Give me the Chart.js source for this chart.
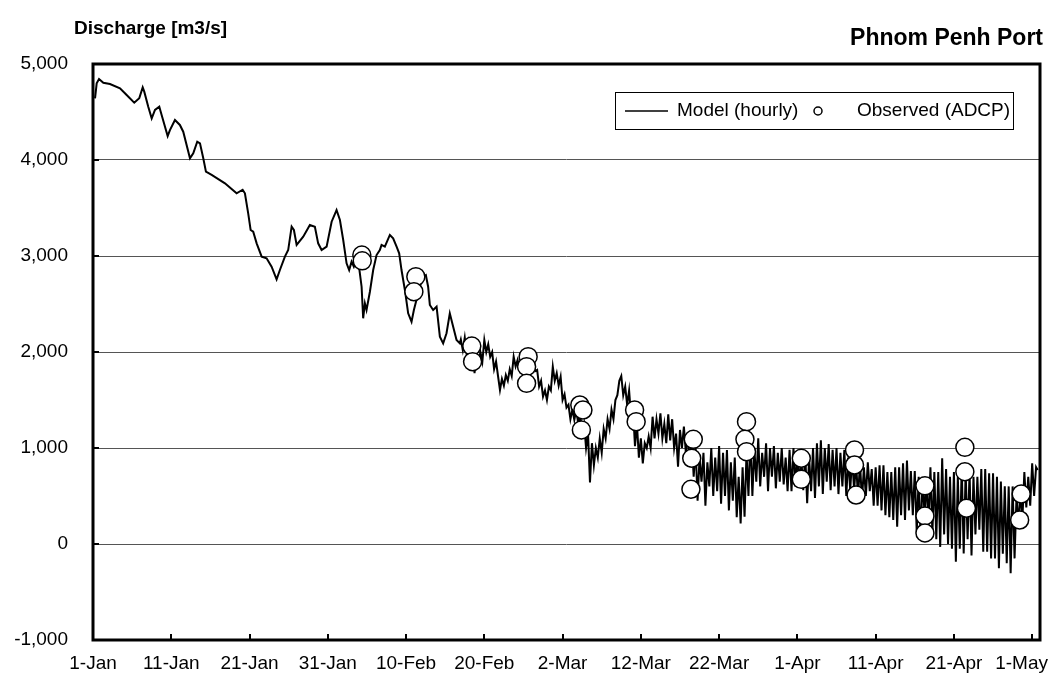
<!DOCTYPE html>
<html>
<head>
<meta charset="utf-8">
<script src="https://cdn.jsdelivr.net/npm/chart.js@4.4.0/dist/chart.umd.min.js"></script>
<style>
  html, body { margin: 0; padding: 0; background: #fff; }
  canvas { display: block; }
</style>
</head>
<body>
<canvas id="myChart" width="1062" height="682"></canvas>
<script>
// day of year (0 = 1-Jan) and discharge in m3/s
var modelFalling = [
  [0.26,4643],[0.47,4799],[0.77,4844],[1.32,4805],[2.17,4792],[3.45,4747],[4.30,4677],[5.27,4597],
  [5.91,4643],[6.35,4757],[6.55,4712],[7.06,4555],[7.50,4434],[7.92,4521],[8.47,4555],[8.77,4469],
  [9.54,4250],[9.83,4312],[10.47,4417],[11.10,4365],[11.53,4295],[12.39,4018],[12.81,4070],[13.32,4191],
  [13.67,4174],[14.09,4018],[14.43,3878],[15.16,3844],[16.86,3757],[18.35,3653],[19.12,3690],[19.41,3653],
  [19.83,3444],[20.14,3271],[20.47,3253],[20.91,3132],[21.55,2993],[22.18,2976],[22.82,2889],[23.46,2757],
  [23.88,2854],[24.52,2993],[24.94,3062],[25.38,3305],[25.67,3271],[26.02,3115],[26.86,3201],[27.71,3323],
  [28.35,3305],[28.77,3132],[29.21,3062],[29.85,3097],[30.49,3357],[31.12,3479],[31.55,3375],[31.97,3167],
  [32.40,2924],[32.73,2854],[33.04,2941],[33.33,2889],[33.68,2958],[33.97,2900],[34.32,2680],[34.52,2351],
  [34.74,2507],[34.95,2438],[35.38,2628],[35.80,2854],[36.23,3010],[36.65,3062],[36.87,3115],[37.29,3097],
  [37.93,3219],[38.35,3184],[38.79,3097],[39.12,3028],[39.42,2854],[39.85,2646],[40.27,2403],[40.70,2316],
  [41.00,2438],[41.76,2680],[42.18,2785],[42.53,2802],[42.82,2680],[43.04,2490],[43.46,2438],[43.90,2472],
  [44.32,2160],[44.74,2090],[45.17,2195],[45.59,2403],[46.02,2264],[46.45,2125],[46.87,2090]
];

// tidal part of the record, two highs and two lows per day
var modelTidal = [
  [47.00,2130],[47.25,2020],[47.50,2150],[47.75,1980],
  [48.00,2100],[48.25,1950],[48.50,2050],[48.75,1780],
  [49.00,1980],[49.25,1880],[49.50,2000],[49.75,1900],
  [50.00,2125],[50.25,2000],[50.50,2080],[50.75,1950],
  [51.00,2000],[51.25,1820],[51.50,1900],[51.75,1750],
  [52.00,1604],[52.25,1720],[52.50,1650],[52.75,1760],
  [53.00,1700],[53.25,1820],[53.50,1750],[53.75,1951],
  [54.00,1850],[54.25,1917],[54.50,1820],[54.75,1900],
  [55.00,1800],[55.25,1900],[55.50,1780],[55.75,1950],
  [56.00,1850],[56.25,1900],[56.50,1800],[56.75,1813],
  [57.00,1640],[57.25,1700],[57.50,1535],[57.75,1600],
  [58.00,1500],[58.25,1640],[58.50,1600],[58.75,1847],
  [59.00,1700],[59.25,1780],[59.50,1650],[59.75,1743],
  [60.00,1500],[60.25,1560],[60.50,1420],[60.75,1450],
  [61.00,1300],[61.25,1400],[61.50,1292],[61.75,1400],
  [62.00,1250],[62.25,1350],[62.50,1150],[62.75,1250],
  [63.00,1000],[63.25,1150],[63.50,640],[63.75,1050],
  [64.00,820],[64.25,1000],[64.50,900],[64.75,1100],
  [65.00,950],[65.25,1200],[65.50,1100],[65.75,1300],
  [66.00,1200],[66.25,1400],[66.50,1300],[66.75,1500],
  [67.00,1550],[67.25,1700],[67.50,1750],[67.75,1550],
  [68.00,1640],[68.25,1450],[68.50,1600],[68.75,1330],
  [69.00,1400],[69.25,1020],[69.50,1250],[69.75,900],
  [70.00,1100],[70.25,840],[70.50,1050],[70.75,1000],
  [71.00,1120],[71.25,1000],[71.50,1326],[71.75,1100],
  [72.00,1300],[72.25,1150],[72.50,1360],[72.75,1100],
  [73.00,1250],[73.25,1050],[73.50,1350],[73.75,1080],
  [74.00,1300],[74.25,1000],[74.50,1150],[74.75,806],
  [75.00,1188],[75.25,1000],[75.50,1222],[75.75,950],
  [76.00,1150],[76.25,800],[76.50,1100],[76.75,700],
  [77.00,1000],[77.25,450],[77.50,900],[77.75,650],
  [78.00,950],[78.25,400],[78.50,850],[78.75,600],
  [79.00,1000],[79.25,500],[79.50,900],[79.75,550],
  [80.00,1020],[80.25,420],[80.50,950],[80.75,500],
  [81.00,980],[81.25,350],[81.50,850],[81.75,450],
  [82.00,900],[82.25,280],[82.50,700],[82.75,215],
  [83.00,800],[83.25,285],[83.50,950],[83.75,500],
  [84.00,1150],[84.25,500],[84.50,1000],[84.75,650],
  [85.00,1100],[85.25,600],[85.50,950],[85.75,700],
  [86.00,1050],[86.25,550],[86.50,1000],[86.75,700],
  [87.00,1020],[87.25,580],[87.50,950],[87.75,650],
  [88.00,1000],[88.25,620],[88.50,900],[88.75,550],
  [89.00,980],[89.25,550],[89.50,1000],[89.75,600],
  [90.00,950],[90.25,620],[90.50,900],[90.75,560],
  [91.00,950],[91.25,424],[91.50,900],[91.75,550],
  [92.00,1000],[92.25,480],[92.50,1050],[92.75,600],
  [93.00,1080],[93.25,520],[93.50,1000],[93.75,650],
  [94.00,1040],[94.25,560],[94.50,980],[94.75,600],
  [95.00,1000],[95.25,520],[95.50,950],[95.75,600],
  [96.00,980],[96.25,500],[96.50,900],[96.75,560],
  [97.00,900],[97.25,560],[97.50,850],[97.75,480],
  [98.00,850],[98.25,450],[98.50,800],[98.75,500],
  [99.00,850],[99.25,550],[99.50,780],[99.75,400],
  [100.00,800],[100.25,400],[100.50,820],[100.75,350],
  [101.00,820],[101.25,300],[101.50,750],[101.75,280],
  [102.00,750],[102.25,250],[102.50,800],[102.75,180],
  [103.00,800],[103.25,300],[103.50,840],[103.75,250],
  [104.00,870],[104.25,350],[104.50,760],[104.75,300],
  [105.00,760],[105.25,120],[105.50,700],[105.75,42],
  [106.00,700],[106.25,300],[106.50,650],[106.75,200],
  [107.00,800],[107.25,100],[107.50,750],[107.75,50],
  [108.00,750],[108.25,-30],[108.50,893],[108.75,100],
  [109.00,780],[109.25,0],[109.50,700],[109.75,-50],
  [110.00,750],[110.25,-184],[110.50,700],[110.75,-50],
  [111.00,800],[111.25,-100],[111.50,750],[111.75,50],
  [112.00,750],[112.25,-120],[112.50,700],[112.75,100],
  [113.00,700],[113.25,150],[113.50,780],[113.75,-80],
  [114.00,780],[114.25,-80],[114.50,736],[114.75,-150],
  [115.00,736],[115.25,-150],[115.50,700],[115.75,-253],
  [116.00,650],[116.25,-100],[116.50,600],[116.75,-200],
  [117.00,600],[117.25,-305],[117.50,600],[117.75,-150],
  [118.00,500],[118.25,200],[118.50,550],[118.75,250],
  [119.00,750],[119.25,380],[119.50,700],[119.75,400],
  [120.00,840],[120.25,500],[120.50,800],[120.70,770]
];

// ADCP measurements
var obsDay = [34.35, 34.4, 41.25, 41.0, 48.4, 48.5, 55.6, 55.4, 55.4, 62.2, 62.6, 62.4,
              69.2, 69.4, 76.7, 76.5, 76.4, 83.5, 83.3, 83.5, 90.5, 90.5, 97.3, 97.3, 97.5,
              106.3, 106.3, 106.3, 111.4, 111.4, 111.6, 118.6, 118.4];
var obsQ = [3010, 2950, 2785, 2628, 2062, 1899, 1951, 1847, 1674, 1448, 1396, 1188,
            1396, 1274, 1090, 893, 570, 1274, 1090, 962, 893, 674, 979, 823, 510,
            606, 292, 115, 1007, 753, 372, 521, 250];

var tickLabels = ['1-Jan', '11-Jan', '21-Jan', '31-Jan', '10-Feb', '20-Feb', '2-Mar',
                  '12-Mar', '22-Mar', '1-Apr', '11-Apr', '21-Apr', '1-May'];

var FONT = "'Liberation Sans', Arial, sans-serif";

var modelData = modelFalling.concat(modelTidal).map(function (p) { return {x: p[0], y: p[1]}; });
var obsData = obsDay.map(function (d, i) { return {x: d, y: obsQ[i]}; });

// border box, inward tick marks, titles and the legend box
var decorations = {
  id: 'decorations',
  afterDraw: function (chart) {
    var ctx = chart.ctx, a = chart.chartArea;
    var xs = chart.scales.x, ys = chart.scales.y;
    ctx.save();
    ctx.strokeStyle = '#000';
    ctx.lineWidth = 2;
    ctx.beginPath();
    for (var i = 0; i < tickLabels.length; i++) {
      var px = Math.round(xs.getPixelForValue(i * 10));
      ctx.moveTo(px, a.bottom);
      ctx.lineTo(px, a.bottom - 6);
    }
    for (var v = -1000; v <= 5000; v += 1000) {
      var py = Math.round(ys.getPixelForValue(v));
      ctx.moveTo(a.left, py);
      ctx.lineTo(a.left + 6, py);
    }
    ctx.stroke();
    ctx.lineWidth = 3;
    ctx.strokeRect(a.left, a.top, a.right - a.left, a.bottom - a.top);

    ctx.fillStyle = '#000';
    ctx.textBaseline = 'middle';
    ctx.font = 'bold 19px ' + FONT;
    ctx.textAlign = 'left';
    ctx.fillText('Discharge [m3/s]', 74, 29);
    ctx.font = 'bold 23px ' + FONT;
    ctx.textAlign = 'right';
    ctx.fillText('Phnom Penh Port', 1043, 39);

    // legend
    ctx.lineWidth = 1;
    ctx.strokeRect(615.5, 92.5, 398, 37);
    ctx.lineWidth = 1.5;
    ctx.beginPath();
    ctx.moveTo(625, 111);
    ctx.lineTo(668, 111);
    ctx.stroke();
    ctx.beginPath();
    ctx.arc(818, 111, 4, 0, Math.PI * 2);
    ctx.stroke();
    ctx.font = '19px ' + FONT;
    ctx.textAlign = 'left';
    ctx.fillText('Model (hourly)', 677, 111);
    ctx.fillText('Observed (ADCP)', 857, 111);
    ctx.restore();
  }
};

var ctx = document.getElementById('myChart').getContext('2d');
var myChart = new Chart(ctx, {
  type: 'scatter',
  data: {
    datasets: [{
      label: 'Observed (ADCP)',
      data: obsData,
      order: 0,
      pointRadius: 9,
      pointBackgroundColor: '#fff',
      pointBorderColor: '#000',
      pointBorderWidth: 1.5,
      showLine: false
    }, {
      label: 'Model (hourly)',
      data: modelData,
      order: 1,
      showLine: true,
      borderColor: '#000',
      borderWidth: 2,
      pointRadius: 0,
      tension: 0
    }]
  },
  options: {
    responsive: false,
    animation: false,
    devicePixelRatio: 1,
    layout: { padding: { top: 64, right: 22, left: 0, bottom: 0 } },
    plugins: {
      legend: { display: false },
      title: { display: false },
      tooltip: { enabled: false }
    },
    scales: {
      x: {
        type: 'linear',
        min: 0,
        max: 121,
        border: { display: false },
        grid: { display: false, drawTicks: false },
        afterFit: function (scale) {
          scale.height = 42;
          scale.paddingLeft = 0;
          scale.paddingRight = 0;
        },
        ticks: {
          stepSize: 10,
          includeBounds: false,
          autoSkip: false,
          maxRotation: 0,
          padding: 12,
          color: '#000',
          font: { family: FONT, size: 19 },
          callback: function (v) {
            var i = Math.round(v / 10);
            // pull the last label in a little so it stays off the canvas edge
            return i === tickLabels.length - 1 ? tickLabels[i] + '    ' : tickLabels[i];
          }
        }
      },
      y: {
        min: -1000,
        max: 5000,
        border: { display: false },
        grid: { color: '#555', lineWidth: 1, drawTicks: false },
        afterFit: function (scale) { scale.width = 93; },
        ticks: {
          stepSize: 1000,
          padding: 25,
          color: '#000',
          font: { family: FONT, size: 19 },
          callback: function (v) { return v.toLocaleString('en-US'); }
        }
      }
    }
  },
  plugins: [decorations]
});
</script>
</body>
</html>
